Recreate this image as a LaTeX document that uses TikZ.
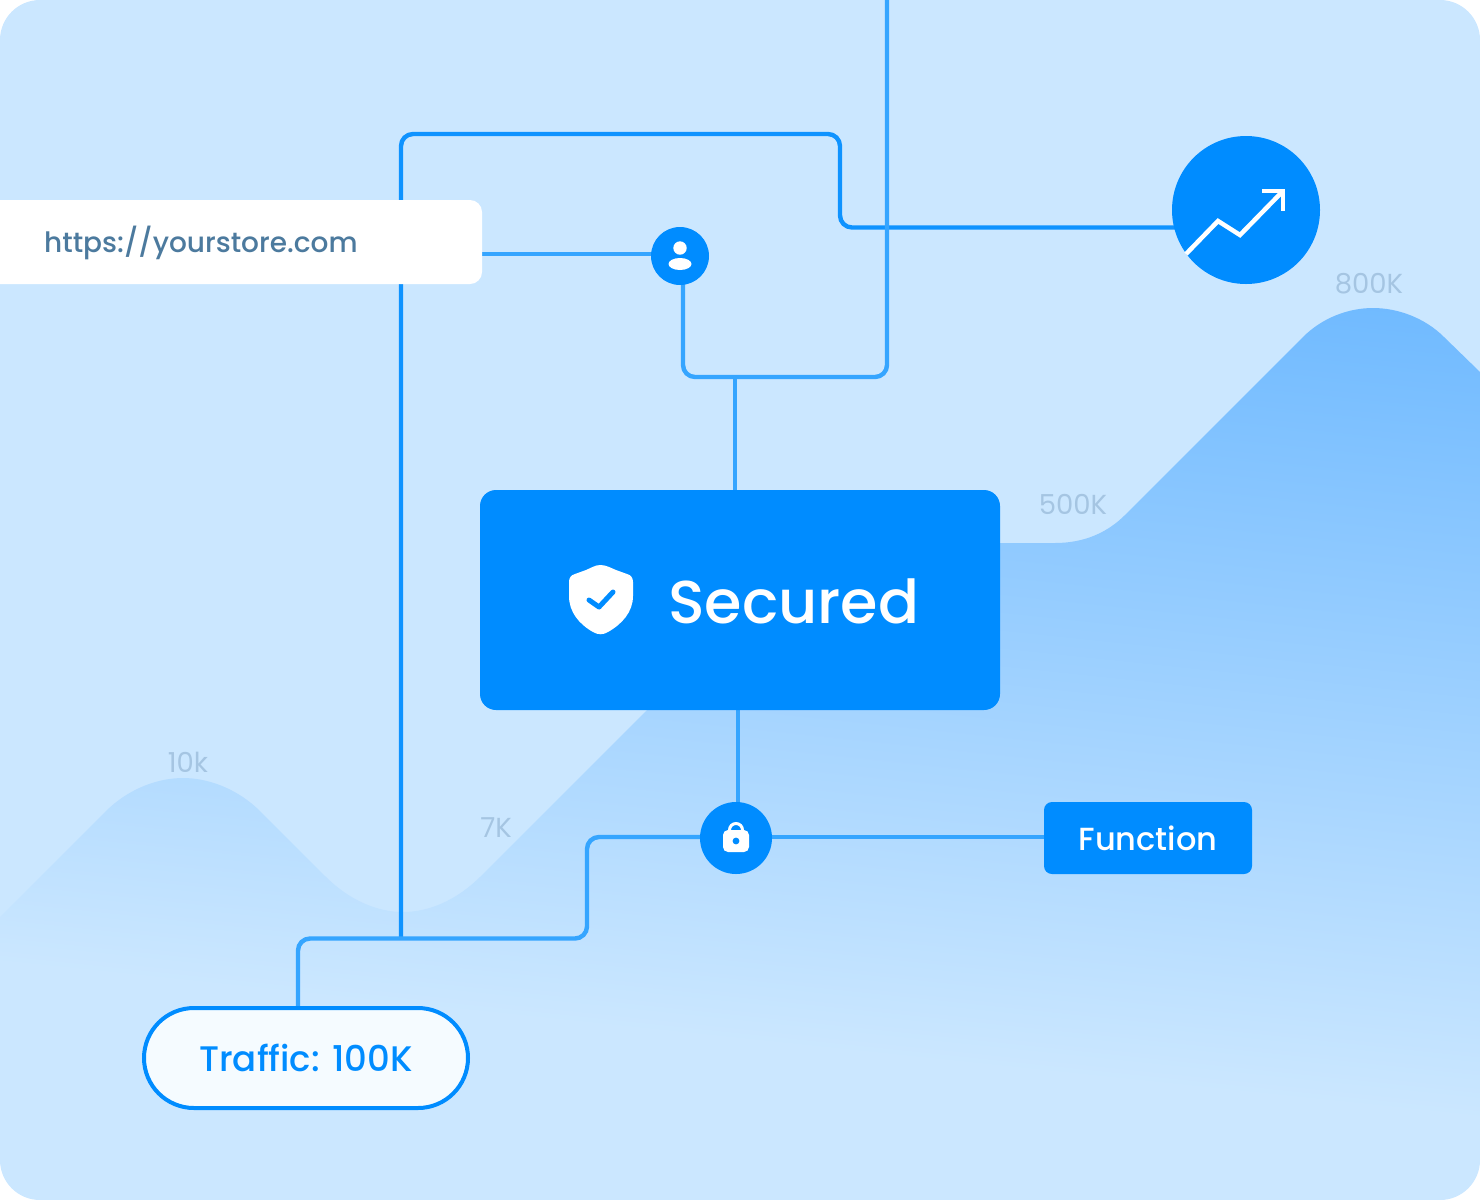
\documentclass[tikz,border=0pt]{standalone}
\usepackage{fontspec}
\setmainfont{Poppins Medium}
\newfontfamily\axisfont{Poppins}
\usetikzlibrary{shapes.misc,calc}
\pgfdeclarelayer{bgl}
\pgfdeclarelayer{wires}
\pgfsetlayers{bgl,wires,main}
\definecolor{bgblue}{HTML}{CBE7FF}
\definecolor{mtop}{HTML}{6EB9FF}
\definecolor{mainblue}{HTML}{008CFF}
\definecolor{wire}{HTML}{35A5FF}
\definecolor{wiredark}{HTML}{0F93FF}
\definecolor{urlink}{HTML}{4C7A9E}
\definecolor{axis}{HTML}{A5C5E2}
\definecolor{pillfill}{HTML}{F5FBFF}
\newcommand{\fs}[1]{\fontsize{#1}{#1}\selectfont}
\tikzset{
  wireline/.style={draw=wire,line width=4.4pt,rounded corners=12pt},
  wiredk/.style={draw=wiredark,line width=4.4pt,rounded corners=12pt},
  axislabel/.style={text=axis,font=\axisfont\fs{27.5},inner sep=0pt},
  disc/.style={circle,fill=mainblue,inner sep=0pt},
  iconline/.style={draw=white,line width=4.5pt}
}
\begin{document}
\begin{tikzpicture}[x=1pt,y=-1pt]
\useasboundingbox (0,0) rectangle (1480,1200);
\begin{pgfonlayer}{bgl}
\begin{scope}
\clip[rounded corners=40pt] (0,0) rectangle (1480,1200);
\fill[bgblue] (0,0) rectangle (1480,1200);
\clip (0,917) -- (105,812) .. controls (130,787) and (160,778) .. (183,778)
  .. controls (206,778) and (236,787) .. (261,812)
  -- (325,876) .. controls (350,901) and (378,912) .. (403,912)
  .. controls (428,912) and (456,901) .. (481,876)
  -- (690,667) -- (1000,560) -- (1000,543) -- (1055,543)
  .. controls (1085,543) and (1108,532) .. (1125,515)
  -- (1303,337) .. controls (1322,318) and (1348,308) .. (1373,308)
  .. controls (1398,308) and (1425,318) .. (1444,337)
  -- (1480,372) -- (1480,1200) -- (0,1200) -- cycle;
\begin{scope}[transform canvas={rotate around={-6:(740,700)}}]
\shade[top color=mtop,bottom color=bgblue] (-400,220) rectangle (1900,1040);
\end{scope}
\end{scope}
\end{pgfonlayer}
\begin{scope}
\clip[rounded corners=40pt] (0,0) rectangle (1480,1200);
% nodes
\node[fill=mainblue,rounded corners=16pt,minimum width=520pt,minimum height=220pt,inner sep=0pt] (secured) at (740,600) {};
\node[fill=white,rounded corners=12pt,minimum width=512pt,minimum height=84pt,inner sep=0pt] (url) at (226,242) {};
\node[disc,minimum size=58pt] (user) at (680,256) {};
\node[disc,minimum size=72pt] (lock) at (736,838) {};
\node[disc,minimum size=148pt] (chart) at (1246,210) {};
\node[fill=mainblue,rounded corners=8pt,minimum width=208pt,minimum height=72pt,inner sep=0pt,text=white,font=\fs{32}] (func) at (1148,838) {Function};
\node[draw=mainblue,line width=4pt,fill=pillfill,rounded rectangle,minimum width=324pt,minimum height=100pt,inner sep=0pt,text=mainblue,font=\fs{35.5}] (traffic) at (306,1058) {Traffic: 100K};
\node[anchor=west,inner sep=0pt,text=urlink,font=\fs{28}] (urltext) at (44,243) {https://yourstore.com};
\node[anchor=west,inner sep=0pt,text=white,font=\fs{60.5}] (sectext) at (668,601) {Secured};
% axis labels
\node[axislabel] (l800) at (1369,284) {800K};
\node[axislabel] (l500) at (1073,504) {500K};
\node[axislabel] (l10) at (188,762) {10k};
\node[axislabel] (l7) at (496,828) {7K};
% shield icon
\fill[white] (600.5,565) .. controls (606,565) and (611,568) .. (616,570) -- (627,574)
  .. controls (631,575) and (633,578) .. (633,582) -- (633,596)
  .. controls (633,612) and (622,624) .. (608,632)
  .. controls (603,635) and (598,635) .. (593,632)
  .. controls (579,624) and (569,612) .. (569,596) -- (569,582)
  .. controls (569,578) and (571,575) .. (575,574) -- (586,570)
  .. controls (591,568) and (595,565) .. (600.5,565) -- cycle;
\draw[draw=mainblue,line width=5pt,line cap=round,line join=round] (589,600) -- (599,607) -- (613,592);
% user icon
\fill[white] (680,248) circle[radius=6.7pt];
\fill[white] (680,264) ellipse[x radius=11.5pt,y radius=6pt];
% lock icon
\draw[white,line width=3pt] (729.5,832) -- (729.5,830) arc[start angle=180,end angle=0,radius=6.5pt] -- (742.5,832);
\fill[white,rounded corners=5pt] (723,830) rectangle (749,852);
\fill[mainblue] (736,841) circle[radius=3.4pt];
% trend icon
\draw[iconline] (1186,254) -- (1218,221) -- (1240,235) -- (1281,193);
\draw[iconline] (1262,191) -- (1283,191) -- (1283,211);
\end{scope}
% free ends and guides
\coordinate (topend) at (887,0);
\coordinate (j1) at (735,377);
\coordinate (j2) at (401,938);
\coordinate (j3) at (738,710);
\coordinate (g227) at (0,227.5);
\coordinate (g254) at (0,254);
\coordinate (g837) at (0,837);
\coordinate (g683) at (683,0);
\coordinate (g298) at (298,0);
\begin{pgfonlayer}{wires}
\draw[wiredk] (j2) -- (401,134) -- (840,134) -- (840,227.5) -- (chart.center |- g227);
\draw[wireline] (topend) -- (887,377) -- (683,377) -- (g683 |- user.center);
\draw[wireline] (j1) -- (j1 |- secured.north);
\draw[wireline] (url.east |- g254) -- (user.center |- g254);
\draw[wireline] (j3) -- (j3 |- lock.center);
\draw[wireline] (func.west |- g837) -- (lock.center |- g837);
\draw[wireline] (lock.center |- g837) -- (587,837) -- (587,938.5) -- (298,938.5) -- (g298 |- traffic.north);
\end{pgfonlayer}
\end{tikzpicture}
\end{document}
